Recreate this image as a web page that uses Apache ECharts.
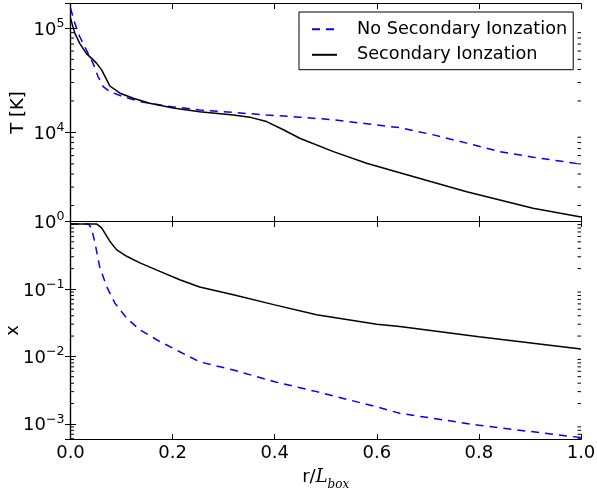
<!DOCTYPE html>
<html>
<head>
<meta charset="utf-8">
<script src="https://cdn.jsdelivr.net/npm/echarts@6/dist/echarts.min.js"></script>
<style>html,body{margin:0;padding:0;background:#fff;}#c{width:597px;height:494px;}</style>
</head>
<body>
<div id="c"></div>
<script>
// ---- data ----
var seriesNames = ['No Secondary Ionzation', 'Secondary Ionzation'];
var xTicks = [0, 0.2, 0.4, 0.6, 0.8, 1.0];

// top panel: temperature T [K]
var rTempNoSec = [0, 0.0084, 0.018, 0.031, 0.044, 0.054, 0.064, 0.077, 0.103, 0.136, 0.188, 0.253, 0.384, 0.449, 0.515, 0.58, 0.645, 0.711, 0.776, 0.841, 0.906, 1.0];
var tempNoSec  = [1.55e5, 1.11e5, 8.26e4, 6.15e4, 4.6e4, 3.42e4, 2.74e4, 2.46e4, 2.2e4, 1.97e4, 1.79e4, 1.64e4, 1.47e4, 1.40e4, 1.32e4, 1.21e4, 1.11e4, 9.47e3, 7.9e3, 6.55e3, 5.8e3, 4.97e3];
var rTempSec   = [0, 0.0084, 0.018, 0.031, 0.051, 0.061, 0.071, 0.077, 0.097, 0.123, 0.155, 0.201, 0.253, 0.319, 0.351, 0.384, 0.417, 0.449, 0.515, 0.58, 0.645, 0.776, 0.906, 1.0];
var tempSec    = [1.24e5, 8.9e4, 7.1e4, 5.7e4, 4.6e4, 3.96e4, 3.18e4, 2.78e4, 2.37e4, 2.12e4, 1.9e4, 1.71e4, 1.58e4, 1.47e4, 1.40e4, 1.27e4, 1.06e4, 8.8e3, 6.55e3, 5.07e3, 4.12e3, 2.71e3, 1.88e3, 1.55e3];

// bottom panel: ionized fraction x
var rIonNoSec = [0, 0.035, 0.041, 0.048, 0.057, 0.0706, 0.087, 0.11, 0.136, 0.175, 0.214, 0.253, 0.319, 0.4, 0.482, 0.6, 0.645, 0.8, 1.0];
var ionNoSec  = [0.92, 0.92, 0.805, 0.48, 0.216, 0.109, 0.0616, 0.0369, 0.0247, 0.0166, 0.0117, 0.0083, 0.00628, 0.0042, 0.0030, 0.00178, 0.00143, 0.00095, 0.000624];
var rIonSec   = [0, 0.051, 0.061, 0.067, 0.077, 0.09, 0.11, 0.136, 0.175, 0.214, 0.253, 0.319, 0.4, 0.482, 0.6, 0.645, 0.8, 1.0];
var ionSec    = [0.92, 0.92, 0.805, 0.68, 0.51, 0.383, 0.305, 0.243, 0.182, 0.137, 0.107, 0.082, 0.058, 0.0413, 0.030, 0.0278, 0.0196, 0.0129];

// axis ranges and minor log ticks
var tempRange = [1406, 1.71e5];
var ionRange  = [5.85e-4, 1];
var tempMinorTicks = [2000, 3000, 4000, 5000, 6000, 7000, 8000, 9000, 20000, 30000, 40000, 50000, 60000, 70000, 80000, 90000];
var ionMinorTicks = [6e-4, 7e-4, 8e-4, 9e-4, 2e-3, 3e-3, 4e-3, 5e-3, 6e-3, 7e-3, 8e-3, 9e-3, 2e-2, 3e-2, 4e-2, 5e-2, 6e-2, 7e-2, 8e-2, 9e-2, 0.2, 0.3, 0.4, 0.5, 0.6, 0.7, 0.8, 0.9];

// ---- chart ----
var FONT = 'DejaVu Sans';
function zip(a, b) { return a.map(function (v, i) { return [v, b[i]]; }); }
function supLabel(v) {
  var e = Math.log10(v), r = Math.round(e);
  if (Math.abs(e - r) > 1e-6) return '';
  return '{b|10}{s|' + (r < 0 ? '\u2212' + (-r) : r) + '}';
}
var rich = {
  b: { fontSize: 18, fontFamily: FONT, color: '#000', padding: [6, 0, 2, 0], verticalAlign: 'bottom' },
  s: { fontSize: 12.6, fontFamily: FONT, color: '#000', lineHeight: 13, padding: [2, 0, 0, 0], verticalAlign: 'top' }
};
var axLine = { show: true, lineStyle: { color: '#000', width: 1.2 } };
var tick = { show: true, inside: true, length: 5.5, lineStyle: { color: '#000', width: 1 } };

function xAx(grid, pos, labels) {
  return {
    type: 'value', gridIndex: grid, position: pos, min: 0, max: 1, interval: 0.2,
    axisLine: axLine, axisTick: tick, splitLine: { show: false },
    axisLabel: { show: labels, fontSize: 18, fontFamily: FONT, color: '#000', margin: 5,
      formatter: function (v) { return v.toFixed(1); } }
  };
}
function yAx(grid, pos, range, labels) {
  return {
    type: 'log', gridIndex: grid, position: pos, min: range[0], max: range[1], logBase: 10,
    axisLine: axLine, axisTick: tick, splitLine: { show: false },
    axisLabel: { show: labels, formatter: supLabel, rich: rich, margin: 6, hideOverlap: false,
      showMinLabel: true, showMaxLabel: true }
  };
}
var yAxes = [yAx(0, 'left', tempRange, true), yAx(0, 'right', tempRange, false),
             yAx(1, 'left', ionRange, true), yAx(1, 'right', ionRange, false)];
yAxes[0].name = 'T [K]'; yAxes[0].nameLocation = 'middle'; yAxes[0].nameGap = 43; yAxes[0].nameMoveOverlap = false;
yAxes[0].nameTextStyle = { fontSize: 18, fontFamily: FONT, color: '#000' };
yAxes[2].name = 'x'; yAxes[2].nameLocation = 'middle'; yAxes[2].nameGap = 48; yAxes[2].nameMoveOverlap = false;
yAxes[2].nameTextStyle = { fontSize: 18, fontFamily: FONT, color: '#000' };

var xAxes = [xAx(0, 'bottom', false), xAx(0, 'top', false), xAx(1, 'bottom', true), xAx(1, 'top', false)];
xAxes[2].name = '{r|r/}{L|L}{sub|box}';
xAxes[2].nameLocation = 'middle';
xAxes[2].nameGap = 29;
xAxes[2].nameMoveOverlap = false;
xAxes[2].nameTextStyle = { rich: {
  r: { fontSize: 18, fontFamily: FONT, color: '#000', lineHeight: 22, verticalAlign: 'top' },
  L: { fontSize: 18, fontFamily: 'DejaVu Serif', fontStyle: 'italic', color: '#000', lineHeight: 22, verticalAlign: 'top' },
  sub: { fontSize: 12, fontFamily: 'DejaVu Serif', fontStyle: 'italic', color: '#000', lineHeight: 12, verticalAlign: 'bottom' }
} };

function minorSeries(xi, yi, vals) {
  return {
    type: 'custom', xAxisIndex: xi, yAxisIndex: yi, silent: true, clip: false, z: 10,
    data: vals.map(function (v) { return [0.5, v]; }),
    encode: { x: 0, y: 1 },
    renderItem: function (params, api) {
      var v = api.value(1);
      var y = api.coord([0.5, v])[1];
      var cs = params.coordSys;
      var xl = cs.x, xr = cs.x + cs.width;
      var st = { stroke: '#000', lineWidth: 1 };
      return { type: 'group', children: [
        { type: 'line', shape: { x1: xl, y1: y, x2: xl + 3.5, y2: y }, style: st },
        { type: 'line', shape: { x1: xr, y1: y, x2: xr - 3.5, y2: y }, style: st }
      ] };
    }
  };
}
function lineSeries(name, xi, yi, r, v, dashed) {
  return {
    name: name, type: 'line', xAxisIndex: xi, yAxisIndex: yi, symbol: 'none', smooth: false,
    animation: false,
    data: zip(r, v),
    lineStyle: { color: dashed ? '#0000ff' : '#000', width: 1.5, type: dashed ? [8, 6] : 'solid' },
    itemStyle: { color: dashed ? '#0000ff' : '#000' }
  };
}

var option = {
  animation: false,
  grid: [
    { left: 70.5, right: 16, top: 3.5, height: 218, containLabel: false, outerBoundsMode: 'none' },
    { left: 70.5, right: 16, top: 221.5, height: 218, containLabel: false, outerBoundsMode: 'none' }
  ],
  legend: {
    data: seriesNames, orient: 'vertical', left: 299, top: 12,
    padding: [8.2, 6, 5.9, 12], itemGap: 7.6, itemWidth: 25, itemHeight: 14,
    borderColor: '#000', borderWidth: 1, borderRadius: 0, backgroundColor: '#fff',
    itemStyle: { color: 'rgba(0,0,0,0)', borderWidth: 0, opacity: 0 },
    textStyle: { fontSize: 17.7, fontFamily: FONT, color: '#000', lineHeight: 18, padding: [0, 0, 0, 15] }
  },
  xAxis: xAxes,
  yAxis: yAxes,
  series: [
    lineSeries(seriesNames[0], 0, 0, rTempNoSec, tempNoSec, true),
    lineSeries(seriesNames[1], 0, 0, rTempSec, tempSec, false),
    lineSeries(seriesNames[0], 2, 2, rIonNoSec, ionNoSec, true),
    lineSeries(seriesNames[1], 2, 2, rIonSec, ionSec, false),
    minorSeries(0, 0, tempMinorTicks),
    minorSeries(2, 2, ionMinorTicks)
  ]
};
var chart = echarts.init(document.getElementById('c'), null, { renderer: 'canvas' });
chart.setOption(option);
</script>
</body>
</html>
